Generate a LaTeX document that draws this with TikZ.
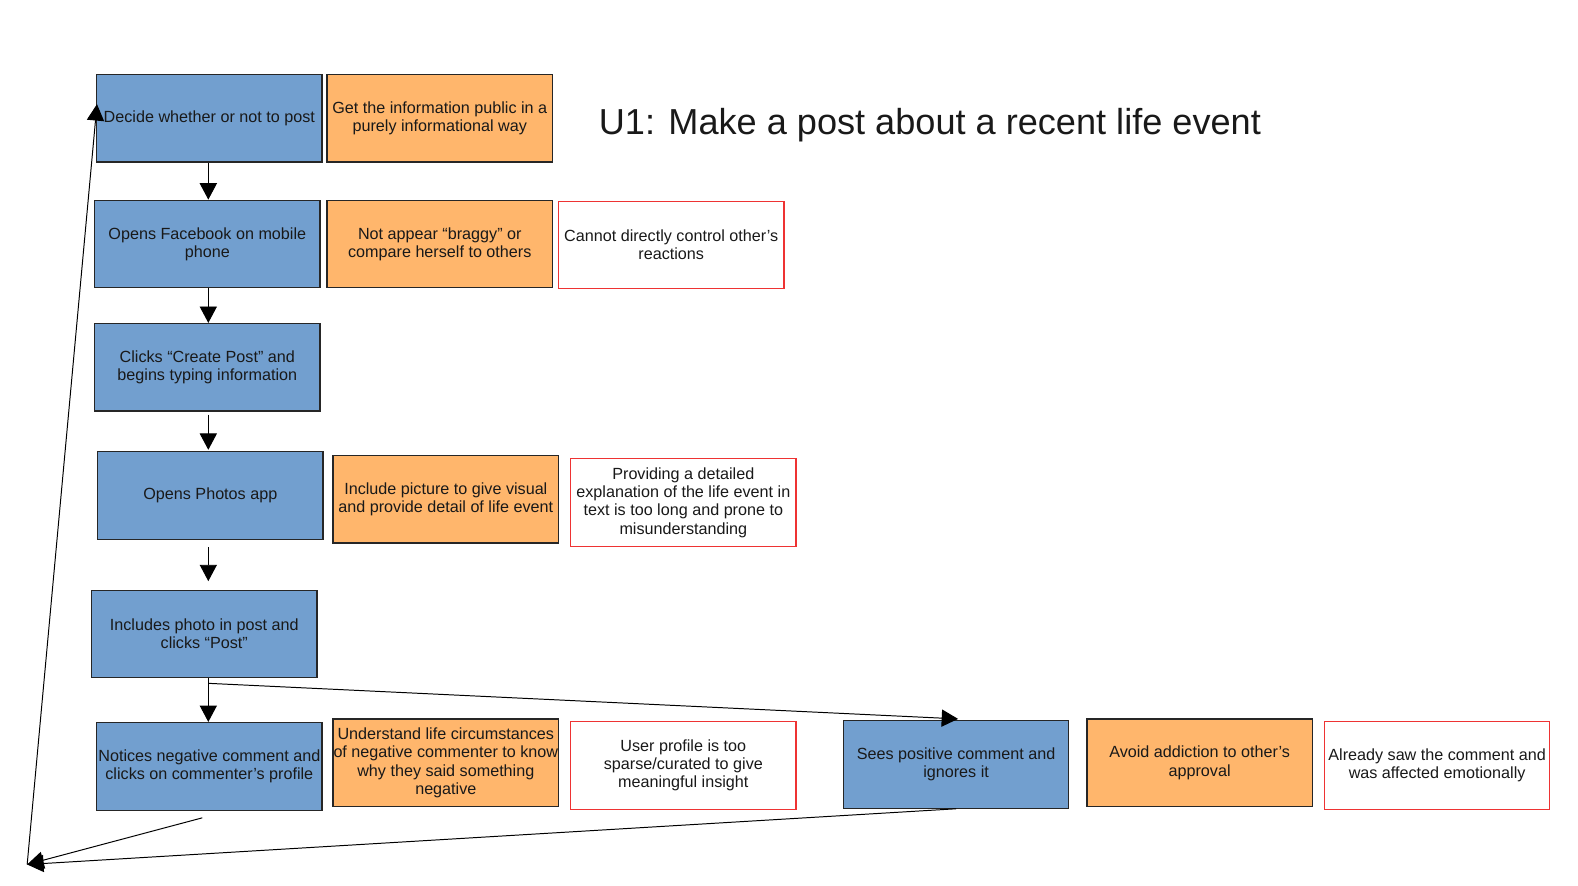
\documentclass[tikz,border=0pt]{standalone}
\usepackage{fontspec}
\setmainfont{Liberation Sans}
\usetikzlibrary{arrows.meta}
\tikzset{>={Triangle[length=4.1mm,width=4.3mm]}}
\colorlet{background}{white}
\definecolor{stepBlue}{HTML}{729FCF}
\definecolor{goalOrange}{HTML}{FFB66C}
\definecolor{barrierRed}{HTML}{EE3333}
\colorlet{penColor}{black!85}
\tikzset{
  stepbox/.style={draw=penColor, line width=0.9pt, fill=stepBlue, text=black!90,
    minimum width=5.636cm, minimum height=2.19cm, align=center, inner sep=0pt,
    font=\fontsize{11.5}{12.9}\selectfont},
  goalbox/.style={stepbox, fill=goalOrange},
  barrierbox/.style={stepbox, draw=barrierRed, line width=0.8pt, fill=white},
  flow/.style={->, line width=0.7pt, black}
}

\begin{document}
\begin{tikzpicture}[x=0.02516cm, y=-0.02516cm]
\useasboundingbox (0,0) rectangle (1568,880);
% title
\node [font=\fontsize{25.7}{30}\selectfont, text=black!90] (title) at (924,124) {U1: Make a post about a recent life event};
% steps
\node [stepbox] (decide) at (208,117.5) {Decide whether or not to post};
\node [stepbox] (facebook) at (206,242.5) {Opens Facebook on mobile\\phone};
\node [stepbox] (create) at (206,365) {Clicks ``Create Post'' and\\begins typing information};
\node [stepbox] (photos) at (209,492.5) {Opens Photos app};
\node [stepbox] (include) at (203,630) {Includes photo in post and\\clicks ``Post''};
\node [stepbox] (negative) at (208,761.5) {Notices negative comment and\\clicks on commenter's profile};
\node [stepbox] (positive) at (950,759.5) {Sees positive comment and\\ignores it};
% goals
\node [goalbox] (inform) at (437,117.5) {Get the information public in a\\purely informational way};
\node [goalbox] (braggy) at (437,242.5) {Not appear ``braggy'' or\\compare herself to others};
\node [goalbox] (picture) at (443,496) {Include picture to give visual\\and provide detail of life event};
\node [goalbox] (understand) at (443,758) {Understand life circumstances\\of negative commenter to know\\why they said something\\negative};
\node [goalbox] (addiction) at (1192,758) {Avoid addiction to other's\\approval};
% barriers
\node [barrierbox] (control) at (667,243.5) {Cannot directly control other's\\reactions};
\node [barrierbox] (detail) at (679,499.5) {Providing a detailed\\explanation of the life event in\\text is too long and prone to\\misunderstanding};
\node [barrierbox] (sparse) at (679,760.5) {User profile is too\\sparse/curated to give\\meaningful insight};
\node [barrierbox] (already) at (1428,760.5) {Already saw the comment and\\was affected emotionally};
% flow
\coordinate (split) at (207,679);
\coordinate (back) at (27,859);
\draw [flow] (decide.south -| split) -- (facebook.north -| split);
\draw [flow] (facebook.south -| split) -- (create.north -| split);
\draw [flow, shorten <=2pt, shorten >=1pt] (create.south -| split) -- (photos.north -| split);
\draw [flow, shorten <=5pt, shorten >=6pt] (photos.south -| split) -- (include.north -| split);
\draw [line width=0.7pt] (include.south -| split) -- (split);
\draw [flow] (split) -- (split |- negative.north);
\draw [flow] (split) -- ([shift={(2,-1)}]positive.north);
\draw [flow] ([shift={(-7,7)}]negative.south) -- (back);
\draw [flow] (positive.south) -- (back);
\draw [flow] (back) -- ([shift={(1,-14)}]decide.west);
\end{tikzpicture}
\end{document}
